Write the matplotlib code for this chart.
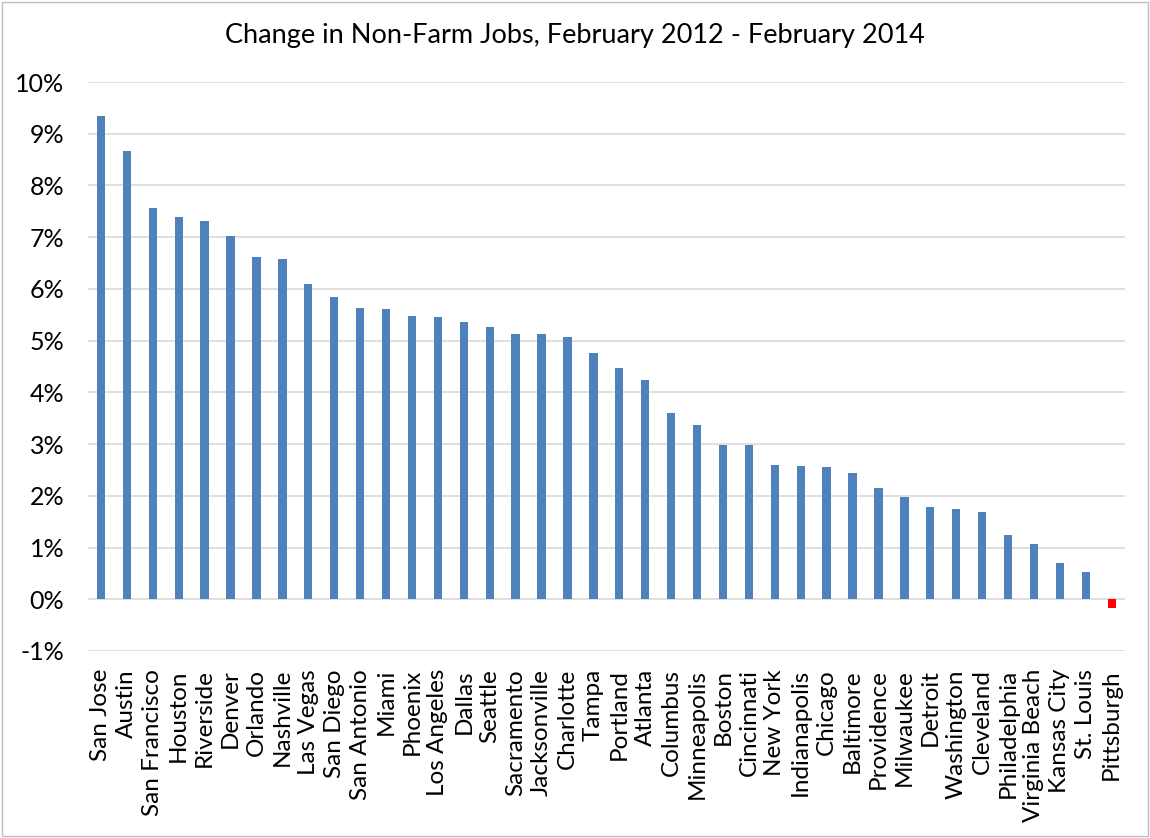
import matplotlib
matplotlib.use("Agg")
import matplotlib.pyplot as plt
from matplotlib.ticker import FuncFormatter
from matplotlib.patches import Rectangle

cities = ["San Jose", "Austin", "San Francisco", "Houston", "Riverside", "Denver",
          "Orlando", "Nashville", "Las Vegas", "San Diego", "San Antonio", "Miami",
          "Phoenix", "Los Angeles", "Dallas", "Seattle", "Sacramento", "Jacksonville",
          "Charlotte", "Tampa", "Portland", "Atlanta", "Columbus", "Minneapolis",
          "Boston", "Cincinnati", "New York", "Indianapolis", "Chicago", "Baltimore",
          "Providence", "Milwaukee", "Detroit", "Washington", "Cleveland",
          "Philadelphia", "Virginia Beach", "Kansas City", "St. Louis", "Pittsburgh"]
change = [9.34, 8.66, 7.56, 7.40, 7.31, 7.02, 6.61, 6.57, 6.09, 5.84, 5.64, 5.62,
          5.48, 5.46, 5.37, 5.27, 5.12, 5.12, 5.08, 4.76, 4.48, 4.23, 3.61, 3.36,
          2.98, 2.98, 2.59, 2.57, 2.55, 2.44, 2.15, 1.97, 1.78, 1.74, 1.68,
          1.24, 1.06, 0.70, 0.52, -0.17]

plt.rcParams['font.family'] = ['Lato', 'DejaVu Sans']

fig = plt.figure(figsize=(11.5, 8.38), dpi=100)
ax = fig.add_axes([0.0765, 0.2232, 0.9015, 0.6789])

colors = ["#4f81bd" if v >= 0 else "#ff0000" for v in change]
ax.bar(range(len(cities)), change, width=0.32, color=colors, zorder=3)

ax.set_xlim(-0.5, len(cities) - 0.5)
ax.set_ylim(-1, 10)
ax.set_yticks(range(-1, 11))
ax.yaxis.set_major_formatter(FuncFormatter(lambda v, p: "%d%%" % v))
ax.set_xticks(range(len(cities)))
ax.set_xticklabels(cities, rotation=90, fontsize=17.5)
ax.tick_params(axis='y', labelsize=18, length=0, pad=17)
ax.tick_params(axis='x', length=0, pad=13)
ax.grid(axis='y', color="#d9d9d9", linewidth=1.2, zorder=0)
for s in ax.spines.values():
    s.set_visible(False)

fig.suptitle("Change in Non-Farm Jobs, February 2012 - February 2014",
             fontsize=19.5, y=0.972)

fig.patches.append(Rectangle((0.002, 0.002), 0.996, 0.996, transform=fig.transFigure,
                             fill=False, edgecolor="#bfbfbf", linewidth=1))

fig.savefig("out.png", dpi=100)
